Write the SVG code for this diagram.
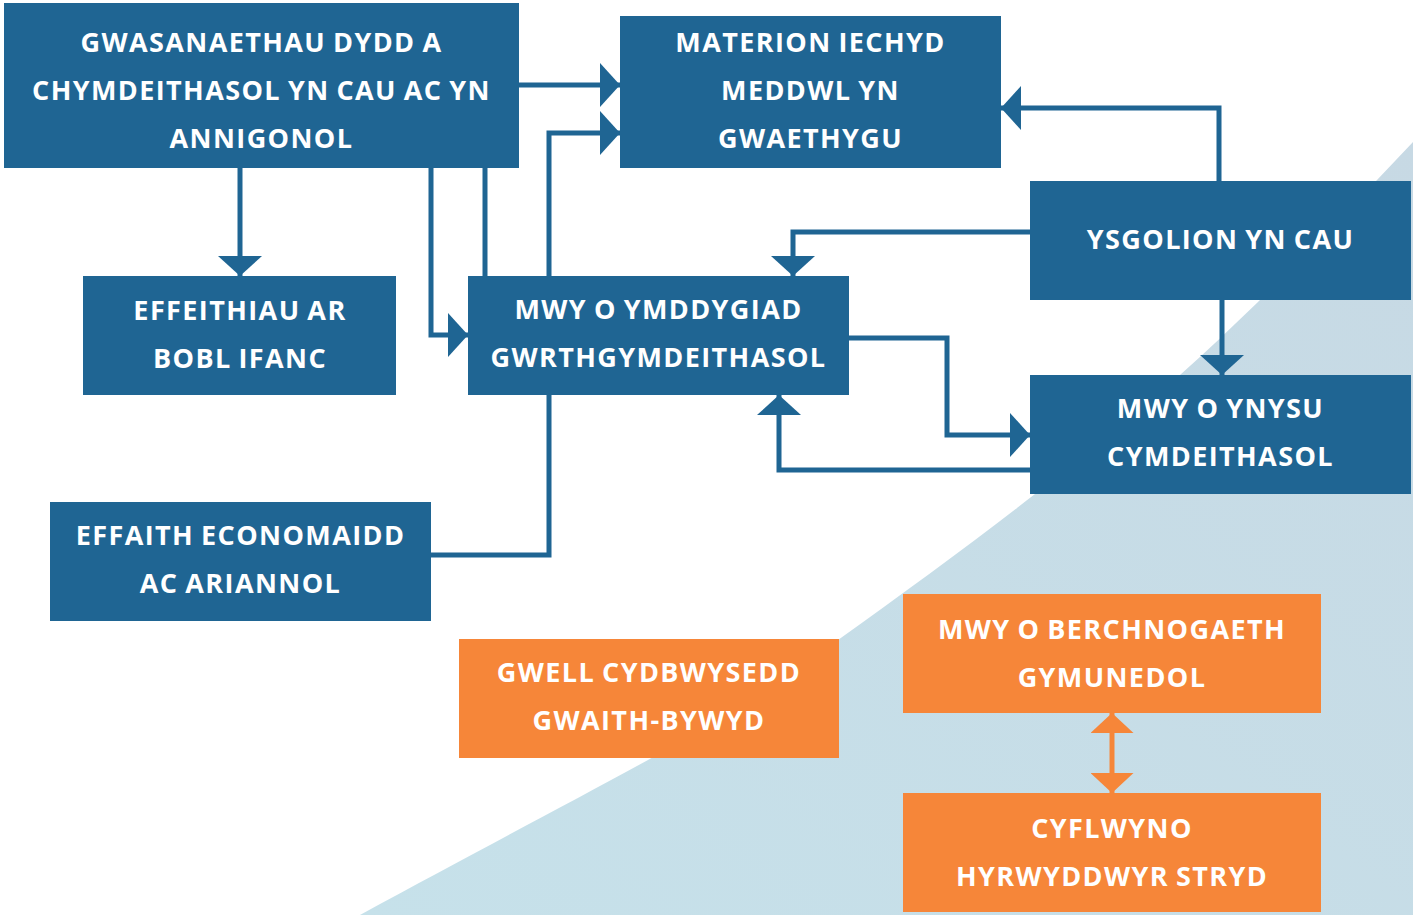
<svg xmlns="http://www.w3.org/2000/svg" width="1413" height="915" viewBox="0 0 1413 915">
<defs>
<linearGradient id="bg" x1="0" y1="1" x2="1" y2="0">
<stop offset="0" stop-color="#c6e1ea"/>
<stop offset="1" stop-color="#c7d9e4"/>
</linearGradient>
<marker id="ab" viewBox="0 0 20 44" refX="20" refY="22" markerWidth="20" markerHeight="44" markerUnits="userSpaceOnUse" orient="auto">
<path d="M0,0 L20,22 L0,44 Z" fill="#1f6593"/>
</marker>
<marker id="ao" viewBox="0 0 20 43" refX="20" refY="21.5" markerWidth="20" markerHeight="43" markerUnits="userSpaceOnUse" orient="auto-start-reverse">
<path d="M0,0 L20,21.5 L0,43 Z" fill="#f68639"/>
</marker>
<style>
.b{fill:#1f6593}
.o{fill:#f68639}
.t{font-family:"Open Sans","Noto Sans","Liberation Sans",sans-serif;font-weight:700;font-size:27px;fill:#ffffff;text-anchor:middle;letter-spacing:1.4px;word-spacing:-1.5px}
.c{fill:none;stroke:#1f6593;stroke-width:5;marker-end:url(#ab)}
.n{fill:none;stroke:#1f6593;stroke-width:5}
.co{fill:none;stroke:#f68639;stroke-width:5;marker-start:url(#ao);marker-end:url(#ao)}
</style>
</defs>
<rect width="1413" height="915" fill="#ffffff"/>
<path d="M360,915 C470,855 560,808 648,760 C715,722 780,684 838,640 C905,592 975,541 1035,494 C1085,455 1135,415 1180,375 C1207,351 1232,327 1258,302 C1300,260 1340,219 1377,180 L1413,142 L1413,915 Z" fill="url(#bg)"/>

<g id="connectors">
<path class="c" d="M519,85 L620,85"/>
<path class="c" d="M549,276 L549,133 L620,133"/>
<path class="n" d="M485,168 L485,276"/>
<path class="c" d="M431,168 L431,335 L468,335"/>
<path class="c" d="M240,168 L240,276"/>
<path class="n" d="M431,555 L549,555 L549,395"/>
<path class="c" d="M1219,181 L1219,108 L1001,108"/>
<path class="c" d="M1030,232 L793,232 L793,276"/>
<path class="c" d="M849,338 L947,338 L947,435 L1030,435"/>
<path class="c" d="M1030,470 L779,470 L779,395"/>
<path class="c" d="M1222,300 L1222,375"/>
<path class="co" d="M1112,713 L1112,793"/>
</g>

<g id="n1"><rect class="b" x="4" y="3" width="515" height="165"/>
<text class="t" x="261.5" y="52">GWASANAETHAU DYDD A</text>
<text class="t" x="261.5" y="100">CHYMDEITHASOL YN CAU AC YN</text>
<text class="t" x="261.5" y="148">ANNIGONOL</text></g>
<g id="n2"><rect class="b" x="620" y="16" width="381" height="152"/>
<text class="t" x="810.5" y="52">MATERION IECHYD</text>
<text class="t" x="810.5" y="100">MEDDWL YN</text>
<text class="t" x="810.5" y="148">GWAETHYGU</text></g>
<g id="n3"><rect class="b" x="83" y="276" width="313" height="119"/>
<text class="t" x="240" y="320">EFFEITHIAU AR</text>
<text class="t" x="240" y="368">BOBL IFANC</text></g>
<g id="n4"><rect class="b" x="468" y="276" width="381" height="119"/>
<text class="t" x="658.5" y="319">MWY O YMDDYGIAD</text>
<text class="t" x="658.5" y="367">GWRTHGYMDEITHASOL</text></g>
<g id="n5"><rect class="b" x="1030" y="181" width="381" height="119"/>
<text class="t" x="1220.5" y="249">YSGOLION YN CAU</text></g>
<g id="n6"><rect class="b" x="1030" y="375" width="381" height="119"/>
<text class="t" x="1220.5" y="418">MWY O YNYSU</text>
<text class="t" x="1220.5" y="466">CYMDEITHASOL</text></g>
<g id="n7"><rect class="b" x="50" y="502" width="381" height="119"/>
<text class="t" x="240.5" y="545">EFFAITH ECONOMAIDD</text>
<text class="t" x="240.5" y="593">AC ARIANNOL</text></g>
<g id="n8"><rect class="o" x="459" y="639" width="380" height="119"/>
<text class="t" x="649" y="682">GWELL CYDBWYSEDD</text>
<text class="t" x="649" y="730">GWAITH-BYWYD</text></g>
<g id="n9"><rect class="o" x="903" y="594" width="418" height="119"/>
<text class="t" x="1112" y="639">MWY O BERCHNOGAETH</text>
<text class="t" x="1112" y="687">GYMUNEDOL</text></g>
<g id="n10"><rect class="o" x="903" y="793" width="418" height="119"/>
<text class="t" x="1112" y="838">CYFLWYNO</text>
<text class="t" x="1112" y="886">HYRWYDDWYR STRYD</text></g>
</svg>
